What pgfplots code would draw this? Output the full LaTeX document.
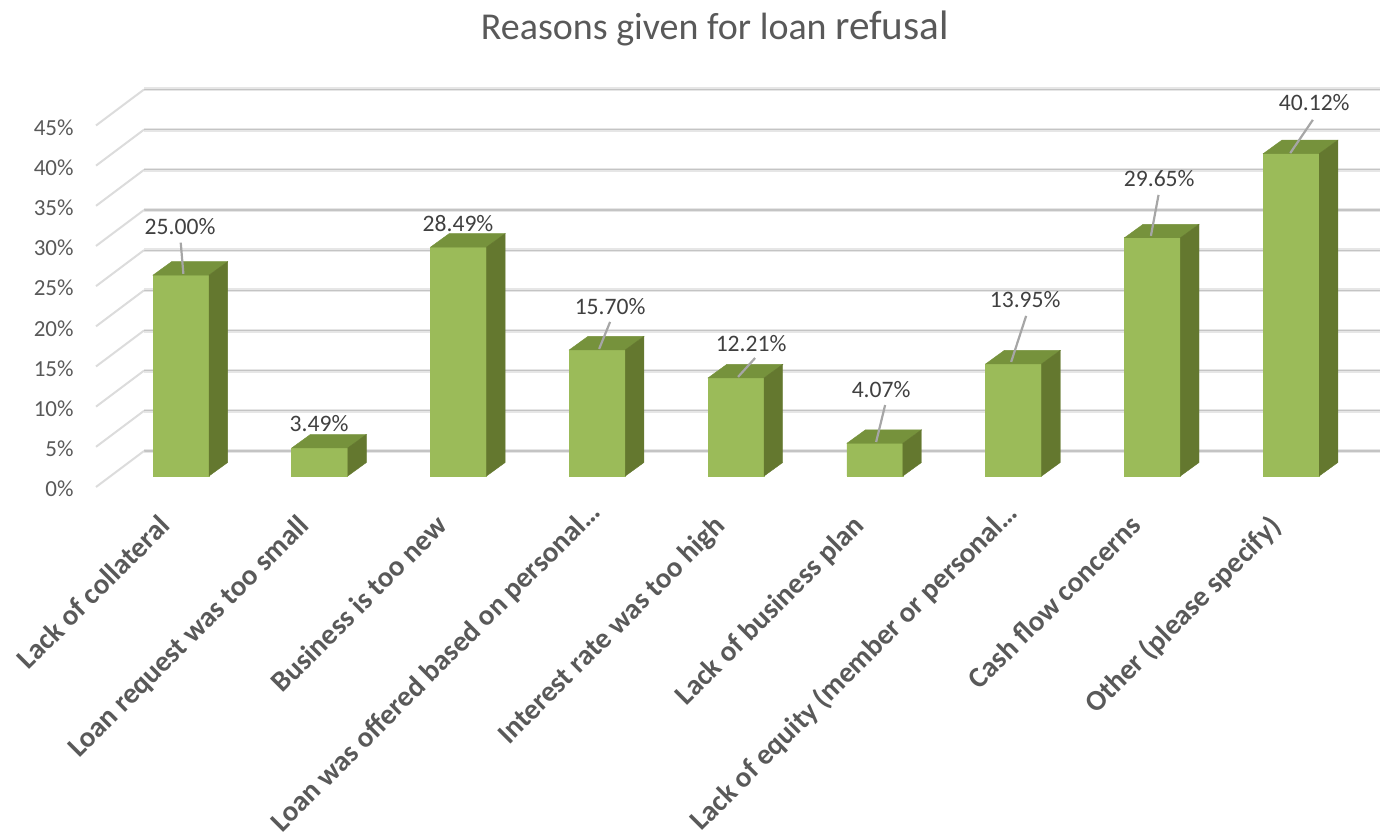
\documentclass[border=0pt]{standalone}
\usepackage{fontspec}
\setmainfont{Carlito}
\usepackage{pgfplots}
\usepackage{pgfplotstable}
\pgfplotsset{compat=1.18}

\definecolor{barfront}{HTML}{9BBB59}
\definecolor{bartop}{HTML}{76923C}
\definecolor{barside}{HTML}{64782F}
\definecolor{gridlight}{HTML}{E6E6E6}
\definecolor{griddark}{HTML}{C4C4C4}
\definecolor{txt}{HTML}{595959}
\definecolor{lab}{HTML}{404040}

% idx, value, label position
\pgfplotstableread{
idx val  lx    ly    txt
0 25.00 -0.007 31.05 25.00
1 3.49  0.995  6.50  3.49
2 28.49 1.996  31.40 28.49
3 15.70 3.092  21.07 15.70
4 12.21 4.108  16.46 12.21
5 4.07  5.045  10.73 4.07
6 13.95 6.083  21.94 13.95
7 29.65 7.049  37.01 29.65
8 40.12 8.166  46.48 40.12
}\loandata

\begin{document}
\begin{tikzpicture}[x=1pt,y=1pt]
\useasboundingbox (0,0) rectangle (690,417.5);
\begin{axis}[
  at={(48pt,174pt)}, anchor=south west,
  scale only axis, width=642pt, height=198.75pt,
  xmin=-0.6126, xmax=8.64, ymin=-1.37, ymax=48.11,
  clip=false,
  axis line style={draw=none},
  tick style={draw=none},
  xtick={0,...,8},
  xticklabels={Lack of collateral,Loan request was too small,Business is too new,Loan was offered based on personal…\hspace*{-10pt},Interest rate was too high,Lack of business plan,Lack of equity (member or personal…\hspace*{-10pt},Cash flow concerns,Other (please specify)},
  x tick label style={rotate=45, anchor=north east, font=\fontsize{14.5}{16}\selectfont\bfseries, text=txt, inner sep=0pt, xshift=-17.6pt, yshift=-0.65pt},
  ytick={-1.37,3.63,8.63,13.63,18.63,23.63,28.63,33.63,38.63,43.63},
  yticklabels={0\%,5\%,10\%,15\%,20\%,25\%,30\%,35\%,40\%,45\%},
  y tick label style={font=\fontsize{11.5}{13}\selectfont, text=txt, xshift=-7.7pt, yshift=-1pt},
  title={Reasons given for loan {\fontsize{20.6}{22}\selectfont refusal}},
  title style={font=\fontsize{19}{22}\selectfont, text=txt, at={(0.482,1)}, anchor=south, yshift=12pt},
]
% back wall and side wall lines
\foreach \p in {-1.37,3.63,8.63,13.63,18.63,23.63,28.63,33.63,38.63,43.63} {
  \pgfmathsetmacro\yf{\p}
  \pgfmathsetmacro\yb{\p+4.48}
  \edef\tmp{\noexpand\addplot[gridlight, line width=2pt, forget plot] coordinates {(-0.2667,\yb) (8.64,\yb)};
    \noexpand\addplot[griddark, line width=0.6pt, forget plot] coordinates {(-0.2667,\yb) (8.64,\yb)};
    \noexpand\addplot[gridlight!70!griddark, line width=1pt, forget plot] coordinates {(-0.6126,\yf) (-0.2667,\yb)};}
  \tmp
}
% front of the bars
\addplot[ybar, bar width=0.4036, bar shift=0pt, fill=barfront, draw=barfront, line width=0.3pt]
  table[x=idx, y=val] {\loandata};
% top and side faces
\foreach \i/\v in {0/25.00,1/3.49,2/28.49,3/15.70,4/12.21,5/4.07,6/13.95,7/29.65,8/40.12} {
  \pgfmathsetmacro\xl{\i-0.2018}
  \pgfmathsetmacro\xr{\i+0.2018}
  \pgfmathsetmacro\xlb{\i-0.2018+0.134}
  \pgfmathsetmacro\xrb{\i+0.2018+0.134}
  \pgfmathsetmacro\yt{\v+1.68}
  \edef\tmp{\noexpand\addplot[fill=bartop, draw=bartop, line width=0.2pt, forget plot] coordinates {(\xl,\v) (\xr,\v) (\xrb,\yt) (\xlb,\yt)} --cycle;
    \noexpand\addplot[fill=barside, draw=barside, line width=0.2pt, forget plot] coordinates {(\xr,0) (\xrb,1.68) (\xrb,\yt) (\xr,\v)} --cycle;}
  \tmp
}
% leader lines
\addplot[gray!70, line width=1.1pt] coordinates {(-0.002,29.05) (0.017,25.16)};
\addplot[gray!70, line width=1.1pt] coordinates {(3.092,19.18) (3.013,15.82)};
\addplot[gray!70, line width=1.1pt] coordinates {(4.137,14.69) (4.014,12.33)};
\addplot[gray!70, line width=1.1pt] coordinates {(5.074,8.84) (5.009,4.23)};
\addplot[gray!70, line width=1.1pt] coordinates {(6.090,19.93) (5.982,14.20)};
\addplot[gray!70, line width=1.1pt] coordinates {(7.044,34.99) (6.989,29.89)};
\addplot[gray!70, line width=1.1pt] coordinates {(8.156,44.33) (7.993,40.19)};
% data labels
\addplot[draw=none, mark=none, point meta=explicit symbolic,
  nodes near coords={\pgfplotspointmeta\%},
  every node near coord/.append style={anchor=center, inner sep=0pt, font=\fontsize{11.8}{13}\selectfont, text=lab}]
  table[x=lx, y=ly, meta=txt] {\loandata};
\end{axis}
\end{tikzpicture}
\end{document}
